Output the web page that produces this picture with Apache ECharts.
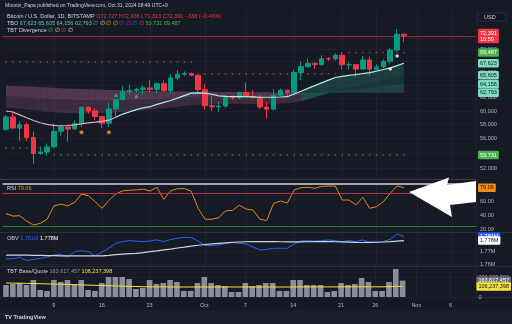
<!DOCTYPE html>
<html><head><meta charset="utf-8">
<script src="https://cdn.jsdelivr.net/npm/echarts@6/dist/echarts.min.js"></script>
<style>html,body{margin:0;padding:0;background:#161a25}#c{width:512px;height:324px}</style>
</head><body><div id="c"></div>
<script>
const dates = ['Sep 2','Sep 3','Sep 4','Sep 5','Sep 6','Sep 7','Sep 8','Sep 9','Sep 10','Sep 11','Sep 12','Sep 13','Sep 14','Sep 15','Sep 16','Sep 17','Sep 18','Sep 19','Sep 20','Sep 21','Sep 22','Sep 23','Sep 24','Sep 25','Sep 26','Sep 27','Sep 28','Sep 29','Sep 30','Oct 1','Oct 2','Oct 3','Oct 4','Oct 5','Oct 6','Oct 7','Oct 8','Oct 9','Oct 10','Oct 11','Oct 12','Oct 13','Oct 14','Oct 15','Oct 16','Oct 17','Oct 18','Oct 19','Oct 20','Oct 21','Oct 22','Oct 23','Oct 24','Oct 25','Oct 26','Oct 27','Oct 28','Oct 29','Oct 30','Oct 31','Nov 1','Nov 2','Nov 3','Nov 4','Nov 5','Nov 6','Nov 7','Nov 8','Nov 9'];
const xTickLabels = {'Sep 9':'9','Sep 16':'16','Sep 23':'23','Oct 1':'Oct','Oct 7':'7','Oct 14':'14','Oct 21':'21','Oct 26':'26','Nov 1':'Nov','Nov 6':'6'};
// [open, close, low, high]
const candles = [
[57300,59120,57100,59400],[59120,57480,57400,59800],[57480,57970,55600,58500],[57970,56160,55700,58300],[56160,53950,52550,56990],
[53950,54140,53750,54850],[54140,54840,53650,55300],[54840,57020,54600,58100],[57020,57650,56400,58040],[57650,57340,55550,57990],
[57340,58130,57330,58600],[58130,60570,57650,60650],[60570,60000,59580,60650],[60000,59180,58700,60400],[59180,58190,57500,59200],
[58190,60300,57630,61300],[60300,61760,59200,61800],[61760,62950,61600,63850],[62950,63200,62400,64100],[63200,63350,62800,63580],
[63350,63580,62400,63990],[63580,63330,62900,64800],[63330,64260,62700,64480],[64260,63150,62950,64800],[63150,65180,62670,65800],
[65180,65790,64800,66500],[65790,65890,65450,66260],[65890,65620,65450,66080],[65620,63300,62900,65620],[63300,60800,60200,64130],
[60800,60630,59980,62380],[60630,60750,59850,61480],[60750,62080,60500,62460],[62080,62050,61680,62370],[62050,62840,61800,62980],
[62840,62200,62130,64470],[62200,62100,61850,63200],[62100,60600,60300,62500],[60600,60280,58900,61300],[60280,62420,60100,63400],
[62420,63200,62400,63450],[63200,62830,62100,63290],[62830,66080,62450,66500],[66080,67060,64800,67900],[67060,67620,66800,68400],
[67620,67400,66700,67900],[67400,68380,67200,68960],[68380,68370,68000,68700],[68370,69000,68100,69400],[69000,67370,66600,69500],
[67370,67380,66570,67830],[67380,66640,65300,67450],[66640,68180,66600,68850],[68180,66620,65500,68800],[66620,67000,66580,67450],
[67000,67960,66800,68300],[67960,69900,67550,70250],[69900,72729,69700,73700],[72727,72391,71313,72938]];
const tboFast = [60000,59850,59420,58990,58590,58260,58020,57880,57790,57860,57960,58090,58240,58340,58460,58630,59060,59540,59870,60210,60480,60650,61000,61300,61600,61960,62360,62740,62800,62750,62570,62330,62250,62190,62190,62190,62170,62100,62100,62100,62140,62190,62610,63050,63500,63940,64380,64820,65250,65440,65600,65750,65900,66070,66300,66580,66850,67230,67623];
const tboMid = [60500,60420,60330,60230,60120,60010,59900,59800,59730,59680,59650,59640,59650,59670,59700,59730,59790,59860,59940,60020,60110,60200,60300,60400,60510,60620,60740,60860,60950,61000,61020,61030,61040,61050,61060,61070,61080,61090,61090,61100,61130,61170,61300,61520,61800,62100,62420,62760,63100,63380,63620,63850,64080,64300,64520,64760,65000,65300,65605];
const tboSlowMid = [62300,62250,62190,62130,62060,61990,61920,61850,61790,61740,61700,61670,61650,61640,61630,61630,61640,61660,61690,61720,61760,61800,61850,61900,61960,62020,62080,62140,62190,62220,62240,62250,62260,62270,62280,62290,62300,62300,62300,62300,62310,62330,62380,62460,62560,62670,62790,62910,63040,63160,63280,63390,63500,63610,63720,63830,63940,64050,64156];
const tboSlow = [63900,63870,63830,63790,63740,63690,63640,63590,63540,63490,63450,63410,63370,63330,63290,63260,63230,63200,63170,63140,63110,63080,63060,63040,63020,63000,62990,62980,62970,62960,62950,62940,62930,62920,62910,62900,62890,62880,62870,62860,62850,62840,62830,62825,62820,62815,62810,62805,62800,62800,62800,62800,62800,62800,62800,62800,62798,62795,62793];
const fastColorSwitch = 16;
const rsiValues = [42,38.5,39,31.5,25.7,28,34,53,55.5,53,58,70,67.5,59,49.6,61,70,74.5,75.3,76,76.7,74.3,79.6,62.4,74.5,77.5,77.7,74,49.6,34,33.9,36,46.1,46.5,54,48.5,47,34,32,56.7,60,57,75.7,79,79.6,78.3,80.8,81.4,81.4,61.4,61.4,54.3,65.3,49.6,51.9,59,71,81.4,79.06];
const obvValues = [1764000,1764000,1765200,1762700,1763500,1764400,1765400,1766900,1767500,1765200,1769600,1770200,1769500,1766200,1769200,1772300,1775800,1777300,1777900,1777500,1777200,1777700,1778500,1777300,1778800,1779800,1780500,1780200,1777700,1774200,1774200,1774600,1775800,1776400,1775900,1775400,1773100,1770800,1771200,1772100,1772100,1772100,1775400,1777700,1777900,1777500,1777900,1778500,1777900,1777200,1777900,1777200,1778500,1776400,1776900,1777200,1779000,1783100,1781000];
const obvMa = [1766900,1766900,1766800,1766800,1766700,1766600,1766500,1766400,1766300,1766200,1766200,1766200,1766200,1766200,1766300,1766700,1767200,1767600,1768000,1768200,1768800,1769500,1770100,1770800,1771500,1772300,1773000,1773800,1774400,1775000,1775500,1775900,1776300,1776700,1776900,1777100,1777200,1777200,1777200,1777200,1777100,1777000,1777000,1777000,1777100,1777200,1777200,1777200,1777100,1777000,1776800,1776600,1776500,1776600,1776700,1776900,1777200,1777600,1778000];
const volumeValues = [120,130,140,120,170,70,60,170,150,170,130,170,70,60,140,200,200,200,180,80,90,170,130,140,170,150,60,60,140,200,140,120,110,50,50,140,110,120,140,140,60,60,170,170,120,120,120,50,60,140,120,130,190,150,60,60,150,280,163.617457];
const volumeMa = [140,139,138,136,135,133,131,129,127,125,123,121,119,117,115,113,111,109,107,105,103,102,101,101,100,100,100,100,100,100,100,100,100,100,100,100,100,100,100,100,100,100,100,101,101,101,101,101,101,101,102,102,102,102,102,102,103,105,106.237398];
const priceTicks = [52000,54000,56000,58000,60000,62000,64000,66000,68000,70000,72000];
const rsiTicks = [20,40,60,80];
const rsiLevels = {upper:71.4, lower:24.3, top:85.3};
const obvTicks = [1760000,1770000];
const volTicks = [0,200];
const resistanceA = {from:0,to:27,value:67840};
const resistanceB = {from:28,to:48,value:65830};
const resistanceC = {from:50,to:58,value:69487};
const supportA = {from:0,to:6,value:54690};
const supportB = {from:7,to:58,value:53731};
const orangeMarks = [[11,56900],[15,56900]];
const greenMarks = [[16,62450],[19,62300]];
const whiteMarks = [[56,66660],[57,68870]];

const FONT = 'Liberation Sans';
const UP = '#089981', DOWN = '#f23645';
const chart = echarts.init(document.getElementById('c'));

function levelDots(l){const d=[];for(let i=l.from;i<=l.to;i++)d.push([i,l.value]);return d;}
function fmt(n){return n.toLocaleString('en-US');}

const G = {left:2.57, width:473.43};
const grids = [
  Object.assign({top:11,height:165},G),
  Object.assign({top:180,height:52},G),
  Object.assign({top:233,height:33},G),
  Object.assign({top:267,height:30},G)
];
const labelInterval = (idx, val) => xTickLabels[val] !== undefined;
const xAxes = grids.map((g,k)=>({
  type:'category', gridIndex:k, data:dates, boundaryGap:true,
  axisLine:{show:false}, axisTick:{show:false, alignWithLabel:true, interval:labelInterval},
  splitLine:{show:true, alignWithLabel:true, interval:labelInterval, lineStyle:{color:'#1f2330',width:1}},
  axisLabel:{show:k===3, interval:labelInterval, formatter:v=>xTickLabels[v]||'', color:'#b2b5be', fontSize:5.5, fontFamily:FONT, margin:5}
}));
const ylab = {color:'#b2b5be', fontSize:5.5, fontFamily:FONT, margin:4};
const yAxes = [
  {type:'log', gridIndex:0, position:'right', min:50980, max:77090, logBase:10,
   axisLine:{show:false}, axisTick:{show:false, customValues:priceTicks},
   splitLine:{show:true,lineStyle:{color:'#1d212c'}},
   axisLabel:Object.assign({customValues:priceTicks, formatter:v=>fmt(Math.round(v))}, ylab)},
  {type:'value', gridIndex:1, position:'right', min:15.71, max:90,
   axisLine:{show:false}, axisTick:{show:false, customValues:rsiTicks}, splitLine:{show:false},
   axisLabel:Object.assign({customValues:rsiTicks, formatter:v=>v.toFixed(2)}, ylab)},
  {type:'value', gridIndex:2, position:'right', min:1758500, max:1783800,
   axisLine:{show:false}, axisTick:{show:false, customValues:obvTicks}, splitLine:{show:true,lineStyle:{color:'#1d212c'}},
   axisLabel:Object.assign({customValues:obvTicks, formatter:v=>(v/1e6).toFixed(2)+'M'}, ylab)},
  {type:'value', gridIndex:3, position:'right', min:0, max:300,
   axisLine:{show:false}, axisTick:{show:false, customValues:volTicks}, splitLine:{show:true,lineStyle:{color:'#1d212c'}},
   axisLabel:Object.assign({customValues:volTicks, formatter:v=>fmt(v*1e6)}, ylab)}
];

function boxLabel(value, text, bg, fg, lineColor){
  return {yAxis:value, lineStyle:{color:lineColor||'rgba(0,0,0,0)', type:'solid', width:1},
    label:{show:true, position:'end', formatter:text, backgroundColor:bg, color:fg, fontSize:5.5, fontFamily:FONT, padding:[1.5,2,1,2], borderRadius:1, distance:2}};
}

function bandSeries(lineA, lineB, colorFn, z){
  const data = lineA.map((v,i)=>[i, v, lineB[i]]);
  return {type:'custom', xAxisIndex:0, yAxisIndex:0, z:z, silent:true, data:data,
    renderItem:(params, api)=>{
      const i = api.value(0);
      if (i >= lineA.length-1) return null;
      const c = colorFn(i);
      if (!c) return null;
      const a0 = api.coord([i, lineA[i]]), a1 = api.coord([i+1, lineA[i+1]]);
      const b0 = api.coord([i, lineB[i]]), b1 = api.coord([i+1, lineB[i+1]]);
      return {type:'polygon', shape:{points:[a0,a1,b1,b0]}, style:{fill:c, stroke:null}};
    }};
}
const bull = i => tboFast[i] > tboSlow[i] && tboFast[i+1] > tboSlow[i+1];
const fastPink = tboFast.map((v,i)=> i<=fastColorSwitch ? v : null);
const fastTeal = tboFast.map((v,i)=> i>=fastColorSwitch ? v : null);

const series = [
  bandSeries(tboMid, tboSlow, i=> bull(i)?'rgba(45,140,120,0.22)':'rgba(175,100,145,0.24)', 1),
  bandSeries(tboSlowMid, tboSlow, i=> bull(i)?'rgba(45,140,120,0.18)':'rgba(175,100,145,0.20)', 1),
  bandSeries(tboFast, tboMid, i=> bull(i)?'rgba(45,140,120,0.30)':null, 1),
  {type:'candlestick', xAxisIndex:0, yAxisIndex:0, data:candles, barWidth:5, z:5,
   itemStyle:{color:UP,color0:DOWN,borderColor:UP,borderColor0:DOWN,borderWidth:1},
   markLine:{symbol:'none', silent:true, animation:false, data:[
     boxLabel(72391,'72,391\n10:59','#f23645','#fff','rgba(242,54,69,0.55)'),
     boxLabel(69487,'69,487','#4caf50','#fff'),
     boxLabel(67623,'67,623','#7ddcc0','#131722'),
     boxLabel(65605,'65,605','#7ddcc0','#131722'),
     boxLabel(64156,'64,156','#7ddcc0','#131722'),
     boxLabel(62793,'62,793','#7ddcc0','#131722'),
     boxLabel(53731,'53,731','#4caf50','#fff')
   ]}},
  {type:'line', xAxisIndex:0, yAxisIndex:0, data:fastPink, showSymbol:false, z:6, lineStyle:{width:1.2,color:'#e6a6c6'}},
  {type:'line', xAxisIndex:0, yAxisIndex:0, data:fastTeal, showSymbol:false, z:6, lineStyle:{width:1.2,color:'#a8efdc'}},
  {type:'scatter', xAxisIndex:0, yAxisIndex:0, data:levelDots(resistanceA), symbol:'rect', symbolSize:1.5, itemStyle:{color:'#c2414f'}, z:4},
  {type:'scatter', xAxisIndex:0, yAxisIndex:0, data:levelDots(resistanceB), symbol:'rect', symbolSize:1.5, itemStyle:{color:'#c2414f'}, z:4},
  {type:'scatter', xAxisIndex:0, yAxisIndex:0, data:levelDots(resistanceC), symbol:'rect', symbolSize:1.5, itemStyle:{color:'#c2414f'}, z:4},
  {type:'scatter', xAxisIndex:0, yAxisIndex:0, data:levelDots(supportA), symbol:'rect', symbolSize:1.5, itemStyle:{color:'#2e9a55'}, z:4},
  {type:'scatter', xAxisIndex:0, yAxisIndex:0, data:levelDots(supportB), symbol:'rect', symbolSize:1.5, itemStyle:{color:'#2e9a55'}, z:4},
  {type:'scatter', xAxisIndex:0, yAxisIndex:0, data:orangeMarks, symbol:'circle', symbolSize:4, itemStyle:{color:'#ff9800'}, z:7},
  {type:'scatter', xAxisIndex:0, yAxisIndex:0, data:greenMarks, symbol:'triangle', symbolSize:4, itemStyle:{color:'#2fbf71'}, z:7},
  {type:'scatter', xAxisIndex:0, yAxisIndex:0, data:whiteMarks, symbol:'circle', symbolSize:3.5, itemStyle:{color:'#ffffff'}, z:7},
  // RSI
  {type:'line', xAxisIndex:1, yAxisIndex:1, data:rsiValues, showSymbol:false, lineStyle:{width:1,color:'#e8861a'},
   markLine:{symbol:'none', silent:true, animation:false, data:[
     {yAxis:rsiLevels.upper, lineStyle:{color:'#b2323f',width:1,type:'solid'}, label:{show:false}},
     {yAxis:rsiLevels.lower, lineStyle:{color:'#2e7d32',width:1,type:'solid'}, label:{show:false}},
     {yAxis:rsiLevels.top, lineStyle:{color:'#d1d4dc',width:1.5,type:'solid'}, label:{show:false}},
     boxLabel(79.06,'79.06','#f28c12','#131722')
   ]}},
  // OBV
  {type:'line', xAxisIndex:2, yAxisIndex:2, data:obvValues, showSymbol:false, lineStyle:{width:1,color:'#2962ff'},
   markLine:{symbol:'none', silent:true, animation:false, data:[boxLabel(1781000,'1.781M','#2962ff','#fff')]}},
  {type:'line', xAxisIndex:2, yAxisIndex:2, data:obvMa, showSymbol:false, lineStyle:{width:1.2,color:'#d1d4dc'},
   markLine:{symbol:'none', silent:true, animation:false, data:[boxLabel(1778000,'1.778M','#ffffff','#131722')]}},
  // Volume
  {type:'bar', xAxisIndex:3, yAxisIndex:3, data:volumeValues, barWidth:5.6, itemStyle:{color:'#8b8e98'},
   markLine:{symbol:'none', silent:true, animation:false, data:[boxLabel(163.617457,'163,617,457','#6a6d78','#fff')]}},
  {type:'line', xAxisIndex:3, yAxisIndex:3, data:volumeMa, showSymbol:false, lineStyle:{width:1,color:'#f5e23b'},
   markLine:{symbol:'none', silent:true, animation:false, data:[boxLabel(106.237398,'106,237,398','#f5e23b','#131722')]}}
];

const T = (x,y,rich,text)=>({type:'text', x:x, y:y, silent:true, z:50, style:{text:text, rich:rich, font:'5.5px '+FONT, fill:'#d1d4dc'}});
const rs = c=>({fill:c, font:'5.5px '+FONT});
const graphic = [
  {type:'text', x:5, y:3, style:{text:'Moonin_Papa published on TradingView.com, Oct 31, 2024 08:49 UTC+9', font:'5px '+FONT, fill:'#d1d4dc'}},
  T(7,13,{w:rs('#d1d4dc'),r:rs('#f23645')},'{w|Bitcoin / U.S. Dollar, 1D, BITSTAMP} {r|O72,727 H72,938 L71,313 C72,391 −338 (−0.46%)}'),
  T(7,20,{w:rs('#d1d4dc'),t:rs('#4fcfae'),g:rs('#4caf50'),o:rs('#ff9800'),p:rs('#9c27b0'),b:rs('#2962ff'),x:rs('#f23645')},'{w|TBO} {t|67,623 65,605 64,156 62,793} {g|∅} {w|∅} {o|∅} {o|∅} {p|∅} {p|∅} {b|∅} {x|∅} {g|53,731 69,487}'),
  T(7,27,{w:rs('#d1d4dc'),g:rs('#4caf50'),x:rs('#f23645')},'{w|TBT Divergence} {g|∅} {w|∅} {x|∅} {w|∅}'),
  {type:'rect', shape:{x:478,y:13,width:28,height:8}, style:{fill:'#131722', stroke:'#2a2e39'}, silent:true},
  {type:'text', x:484, y:14.5, style:{text:'USD', font:'5.5px '+FONT, fill:'#d1d4dc'}},
  T(7,185,{w:rs('#d1d4dc'),o:rs('#f28c12')},'{w|RSI} {o|79.06}'),
  T(7,235,{w:rs('#d1d4dc'),b:rs('#2962ff'),v:rs('#ffffff')},'{w|OBV} {b|1.781M} {v|1.778M}'),
  T(7,268,{w:rs('#d1d4dc'),g:rs('#9598a1'),y:rs('#f5e23b')},'{w|TBT Base/Quote} {g|163,617,457} {y|106,237,398}'),
  {type:'line', shape:{x1:0,y1:179.5,x2:476,y2:179.5}, style:{stroke:'#3a3e49'}},
  {type:'line', shape:{x1:0,y1:232.5,x2:512,y2:232.5}, style:{stroke:'#2a2e39'}},
  {type:'line', shape:{x1:0,y1:266.5,x2:512,y2:266.5}, style:{stroke:'#2a2e39'}},
  {type:'line', shape:{x1:0,y1:297.5,x2:512,y2:297.5}, style:{stroke:'#2a2e39'}},
  {type:'line', shape:{x1:476.5,y1:11,x2:476.5,y2:298}, style:{stroke:'#1f2330'}},
  {type:'rect', shape:{x:0,y:310,width:512,height:14}, style:{fill:'#1a1e29'}, silent:true},
  {type:'text', x:5, y:314, style:{text:'TV TradingView', font:'bold 5.5px '+FONT, fill:'#d1d4dc'}},
  {type:'polygon', z:100, shape:{points:[[409,192],[449,177.5],[447,185],[476,181],[476,202],[450,205],[452,217]]}, style:{fill:'#ffffff'}}
];

chart.setOption({
  backgroundColor:'#161a25', animation:false,
  grid:grids, xAxis:xAxes, yAxis:yAxes, series:series, graphic:graphic
});
</script></body></html>
